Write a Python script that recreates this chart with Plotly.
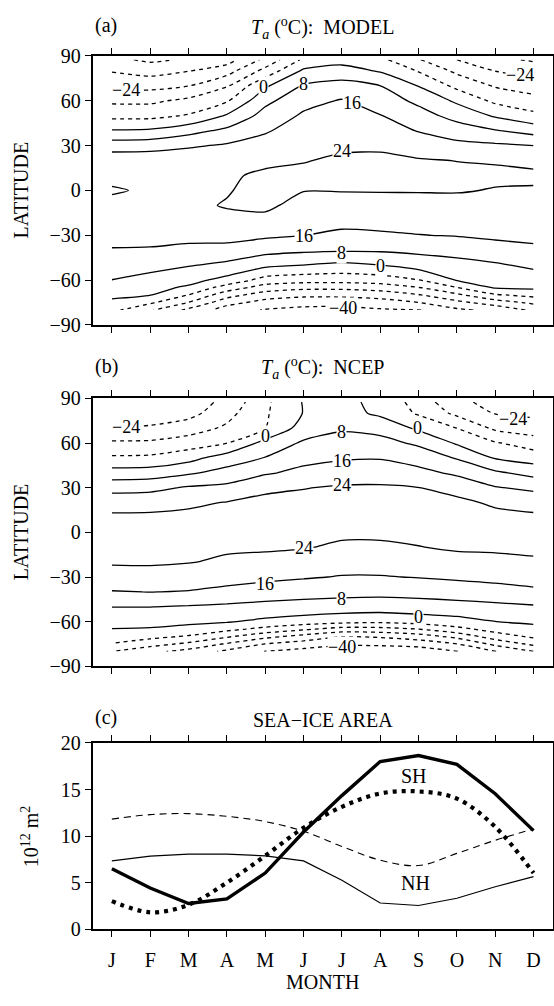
import plotly.graph_objects as go

# ---------------- data ----------------
months = ["J", "F", "M", "A", "M", "J", "J", "A", "S", "O", "N", "D"]
month_idx = list(range(12))
lat = [-80, -75, -70, -65, -60, -50, -40, -30, -20, -10, 0, 10, 20, 30, 40, 50, 60, 70, 80, 87.5]

# Surface air temperature (deg C), rows = lat, cols = month  -- MODEL
ta_model = [
    [-6.0, -15.0, -26.0, -36.0, -40.6, -42.5, -43.5, -41.0, -40.5, -33.5, -30.0, -22.4],
    [-1.8, -6.7, -16.3, -29.1, -34.9, -36.6, -36.3, -35.4, -32.1, -26.2, -20.0, -14.4],
    [1.8, 0.2, -8.3, -21.0, -28.0, -30.4, -30.4, -28.8, -24.7, -17.8, -9.1, -5.8],
    [4.8, 2.7, -1.3, -11.6, -19.6, -22.0, -22.0, -20.4, -16.3, -8.3, 0.8, 1.4],
    [7.9, 5.5, 2.5, -2.5, -11.2, -12.8, -13.0, -12.0, -8.3, 0.4, 2.9, 4.2],
    [11.6, 10.5, 8.5, 6.3, 1.8, -0.2, -1.9, -0.2, 3.4, 5.4, 7.0, 9.5],
    [15.4, 15.2, 13.9, 12.9, 10.6, 9.4, 8.8, 8.9, 9.7, 10.7, 12.7, 14.2],
    [19.0, 18.8, 18.5, 19.2, 17.4, 16.1, 14.5, 15.0, 15.8, 16.4, 17.5, 18.3],
    [21.5, 21.3, 21.0, 22.5, 22.0, 18.7, 18.2, 18.5, 18.8, 19.5, 20.3, 21.0],
    [23.2, 23.0, 22.8, 24.4, 25.5, 21.4, 21.0, 21.3, 21.5, 22.0, 22.5, 22.8],
    [24.3, 23.6, 23.4, 23.6, 26.0, 24.2, 24.3, 24.4, 24.4, 24.4, 23.7, 23.7],
    [23.2, 23.0, 22.9, 23.2, 25.0, 25.5, 26.0, 26.0, 25.5, 25.3, 25.0, 24.6],
    [21.0, 20.8, 20.9, 21.3, 22.8, 23.7, 25.0, 25.3, 24.6, 23.9, 23.6, 23.2],
    [12.3, 13.0, 15.0, 17.0, 18.7, 21.5, 23.0, 23.0, 20.4, 18.3, 17.4, 16.1],
    [0.6, 1.2, 5.3, 9.8, 15.3, 19.3, 20.9, 19.7, 15.6, 11.8, 8.5, 5.0],
    [-10.3, -10.2, -7.3, 0.9, 11.0, 17.1, 18.8, 16.3, 11.2, 5.3, -0.8, -5.9],
    [-17.5, -17.5, -14.1, -8.8, 6.0, 13.5, 16.6, 12.2, 6.3, -1.3, -9.7, -13.1],
    [-25.9, -26.5, -24.1, -16.6, -1.1, 8.8, 10.9, 8.1, -0.3, -10.0, -16.7, -19.8],
    [-32.5, -34.9, -32.2, -27.3, -13.3, 1.4, 3.4, -0.7, -8.5, -17.7, -24.1, -27.2],
    [-38.0, -41.5, -39.0, -35.5, -22.0, -6.5, -3.0, -6.0, -15.5, -24.0, -30.0, -33.0],
]

# Surface air temperature (deg C) -- NCEP
ta_ncep = [
    [-15.9, -22.0, -26.7, -33.8, -40.2, -42.9, -45.3, -45.0, -44.8, -40.2, -32.2, -24.1],
    [-8.4, -12.8, -17.8, -24.9, -32.1, -35.6, -38.7, -38.5, -36.8, -32.1, -22.0, -14.2],
    [-4.2, -5.9, -8.9, -15.0, -21.7, -27.0, -31.9, -31.0, -28.0, -21.7, -12.0, -6.7],
    [-0.2, -0.6, -2.5, -5.8, -10.3, -14.7, -19.2, -18.7, -15.9, -10.3, -5.0, -2.4],
    [2.6, 2.5, 1.7, 0.6, -1.7, -3.7, -5.5, -6.4, -4.7, -2.8, -0.1, 1.3],
    [8.1, 8.1, 7.4, 6.5, 5.6, 5.0, 4.4, 4.0, 4.6, 5.2, 6.1, 7.1],
    [15.6, 16.1, 15.6, 14.0, 12.3, 11.1, 10.4, 10.2, 10.6, 11.6, 12.9, 14.5],
    [20.7, 21.3, 20.2, 18.9, 17.8, 16.7, 15.6, 15.6, 16.3, 17.3, 18.2, 19.1],
    [24.8, 24.8, 24.3, 22.9, 21.8, 20.7, 19.2, 19.2, 20.0, 21.4, 22.0, 23.0],
    [25.8, 25.8, 25.5, 25.0, 25.0, 24.5, 22.7, 22.7, 23.8, 25.0, 25.2, 25.5],
    [26.0, 26.2, 26.2, 26.0, 26.5, 26.5, 25.5, 25.5, 25.8, 26.2, 26.2, 26.2],
    [25.5, 25.6, 25.6, 25.8, 26.8, 27.0, 27.0, 27.0, 26.8, 26.5, 25.8, 25.5],
    [20.7, 21.0, 22.8, 24.3, 25.5, 26.5, 26.5, 26.5, 26.0, 25.5, 23.0, 21.0],
    [13.3, 13.9, 16.8, 18.0, 22.8, 23.7, 24.8, 24.9, 24.1, 21.7, 16.5, 14.3],
    [3.3, 3.9, 6.9, 10.8, 15.0, 18.2, 20.1, 20.4, 18.3, 14.5, 9.2, 5.5],
    [-6.8, -6.4, -2.7, 3.8, 8.3, 13.4, 15.1, 15.5, 12.6, 7.4, -0.5, -3.6],
    [-14.6, -14.5, -12.2, -8.1, 2.6, 9.1, 11.1, 10.8, 6.6, -0.9, -7.3, -11.9],
    [-24.1, -23.1, -19.6, -14.7, -8.1, 3.5, 7.0, 5.1, -1.3, -8.1, -17.6, -20.2],
    [-27.5, -27.8, -26.8, -18.6, -9.0, 0.3, 3.0, -1.5, -9.0, -17.9, -24.4, -25.6],
    [-30.0, -31.0, -28.0, -22.0, -9.6, 0.5, 2.5, -2.5, -11.0, -22.5, -26.0, -28.0],
]

contour_levels = [-40, -32, -24, -16, -8, 0, 8, 16, 24]

# contour label texts with where they sit (month index, latitude)
labels_model = [("\u221224", 0.38, 67.4), ("0", 3.95, 69.0), ("8", 5.0, 71.2),
                ("16", 6.26, 58.5), ("24", 6.0, 26.4), ("\u221224", 10.64, 77.3),
                ("16", 5.0, -30.6), ("8", 6.0, -42.0), ("0", 7.0, -50.8),
                ("\u221240", 6.03, -78.4)]
labels_ncep = [("\u221224", 0.36, 70.9), ("0", 4.0, 64.7), ("8", 6.0, 67.6),
               ("0", 7.96, 69.8), ("\u221224", 10.47, 76.4), ("16", 6.0, 48.2),
               ("24", 6.0, 31.7), ("24", 5.0, -10.5), ("16", 4.0, -34.7),
               ("8", 6.0, -44.6), ("0", 8.0, -57.1), ("\u221240", 6.0, -77.2)]

# Sea-ice area (10^12 m^2)
sh_model = [6.5, 4.45, 2.78, 3.27, 6.05, 10.45, 14.35, 18.0, 18.65, 17.7, 14.55, 10.6]
sh_obs = [3.04, 1.84, 2.65, 5.02, 7.9, 10.9, 13.15, 14.58, 14.8, 14.03, 11.0, 6.05]
nh_model = [7.35, 7.87, 8.07, 8.07, 7.9, 7.35, 5.28, 2.84, 2.57, 3.35, 4.58, 5.66]
nh_obs = [11.83, 12.31, 12.42, 12.13, 11.57, 10.53, 8.9, 7.43, 6.85, 8.16, 9.56, 10.77]

# ---------------- figure ----------------
FONT = "Liberation Serif"
W, H = 554, 1006
X0, X1 = 92.7 / W, 552.7 / W
dom_a = [1 - 321 / H, 1 - 46 / H]
dom_b = [1 - 670 / H, 1 - 396 / H]
dom_c = [1 - 939 / H, 1 - 748.3 / H]

fig = go.Figure()


def add_contours(z, xa, ya):
    for lv in contour_levels:
        fig.add_trace(go.Contour(
            x=month_idx, y=lat, z=z,
            autocontour=False,
            contours=dict(start=lv, end=lv, size=8, coloring="none", showlabels=False),
            line=dict(color="black", width=1.3,
                      dash="solid" if lv >= 0 else "4px,4px", smoothing=0.7),
            showscale=False, hoverinfo="skip",
            xaxis=xa, yaxis=ya,
        ))


add_contours(ta_model, "x", "y")
add_contours(ta_ncep, "x2", "y2")

fig.add_trace(go.Scatter(x=month_idx, y=nh_obs, mode="lines", xaxis="x3", yaxis="y3",
                         line=dict(color="black", width=1.1, dash="7px,5px", shape="spline"),
                         showlegend=False, hoverinfo="skip"))
fig.add_trace(go.Scatter(x=month_idx, y=nh_model, mode="lines", xaxis="x3", yaxis="y3",
                         line=dict(color="black", width=1.2),
                         showlegend=False, hoverinfo="skip"))
fig.add_trace(go.Scatter(x=month_idx, y=sh_obs, mode="lines", xaxis="x3", yaxis="y3",
                         line=dict(color="black", width=4.2, dash="4px,5px", shape="spline"),
                         showlegend=False, hoverinfo="skip"))
fig.add_trace(go.Scatter(x=month_idx, y=sh_model, mode="lines", xaxis="x3", yaxis="y3",
                         line=dict(color="black", width=3.4),
                         showlegend=False, hoverinfo="skip"))

tickfont = dict(family=FONT, size=20, color="black")
common_x = dict(range=[-0.5, 11.5], tickvals=month_idx, ticks="outside", ticklen=6,
                tickwidth=1.3, tickcolor="black", showline=True, linecolor="black",
                linewidth=1.7, mirror="allticks", showgrid=False, zeroline=False,
                tickfont=tickfont, domain=[X0, X1])
common_ylat = dict(range=[-90, 90], tickvals=[-90, -60, -30, 0, 30, 60, 90],
                   ticks="outside", ticklen=6, tickwidth=1.3, tickcolor="black",
                   showline=True, linecolor="black", linewidth=1.7, mirror=True,
                   showgrid=False, zeroline=False, tickfont=tickfont)

fig.update_layout(
    width=W, height=H, autosize=False,
    margin=dict(l=0, r=0, t=0, b=0),
    paper_bgcolor="white", plot_bgcolor="white",
    showlegend=False,
    font=dict(family=FONT, size=20, color="black"),
    xaxis=dict(common_x, anchor="y", showticklabels=False),
    yaxis=dict(common_ylat, anchor="x", domain=dom_a),
    xaxis2=dict(common_x, anchor="y2", showticklabels=False),
    yaxis2=dict(common_ylat, anchor="x2", domain=dom_b),
    xaxis3=dict(common_x, anchor="y3", showticklabels=True, ticktext=months,
                ticklabelstandoff=6),
    yaxis3=dict(range=[0, 20], tickvals=[0, 5, 10, 15, 20], ticks="outside", ticklen=6,
                tickwidth=1.3, tickcolor="black", showline=True, linecolor="black",
                linewidth=1.7, mirror=True, showgrid=False, zeroline=False,
                tickfont=tickfont, anchor="x3", domain=dom_c),
)

XC = (X0 + X1) / 2
ann = []


def txt(text, x, y, xanchor="center", angle=0, xref="paper", yref="paper", size=20,
        bg=None):
    d = dict(text=text, x=x, y=y, xref=xref, yref=yref, xanchor=xanchor,
             yanchor="middle", showarrow=False, textangle=angle,
             font=dict(family=FONT, size=size, color="black"))
    if bg:
        d.update(bgcolor=bg, borderpad=0)
    ann.append(d)


for t, mx, ly in labels_model:
    txt(t, mx, ly, xref="x", yref="y", size=18, bg="white")
for t, mx, ly in labels_ncep:
    txt(t, mx, ly, xref="x2", yref="y2", size=18, bg="white")

txt("(a)", X0, 1 - 15 / H, xanchor="left")
txt("<i>T</i><sub><i>a</i></sub> (<sup>o</sup>C):&nbsp; MODEL", XC, 1 - 17 / H)
txt("(b)", X0, 1 - 363 / H, xanchor="left")
txt("<i>T</i><sub><i>a</i></sub> (<sup>o</sup>C):&nbsp; NCEP", XC, 1 - 365 / H)
txt("(c)", X0, 1 - 722 / H, xanchor="left")
txt("SEA\u2212ICE AREA", XC, 1 - 725 / H)
txt("LATITUDE", 21 / W, (dom_a[0] + dom_a[1]) / 2, angle=-90)
txt("LATITUDE", 21 / W, (dom_b[0] + dom_b[1]) / 2, angle=-90)
txt("10<sup>12</sup> m<sup>2</sup>", 30 / W, (dom_c[0] + dom_c[1]) / 2, angle=-90)
txt("MONTH", XC, 1 - 993 / H)
txt("SH", 7.88, 16.5, xref="x3", yref="y3")
txt("NH", 7.92, 4.95, xref="x3", yref="y3")
fig.update_layout(annotations=ann)

fig.write_html("out.html")
